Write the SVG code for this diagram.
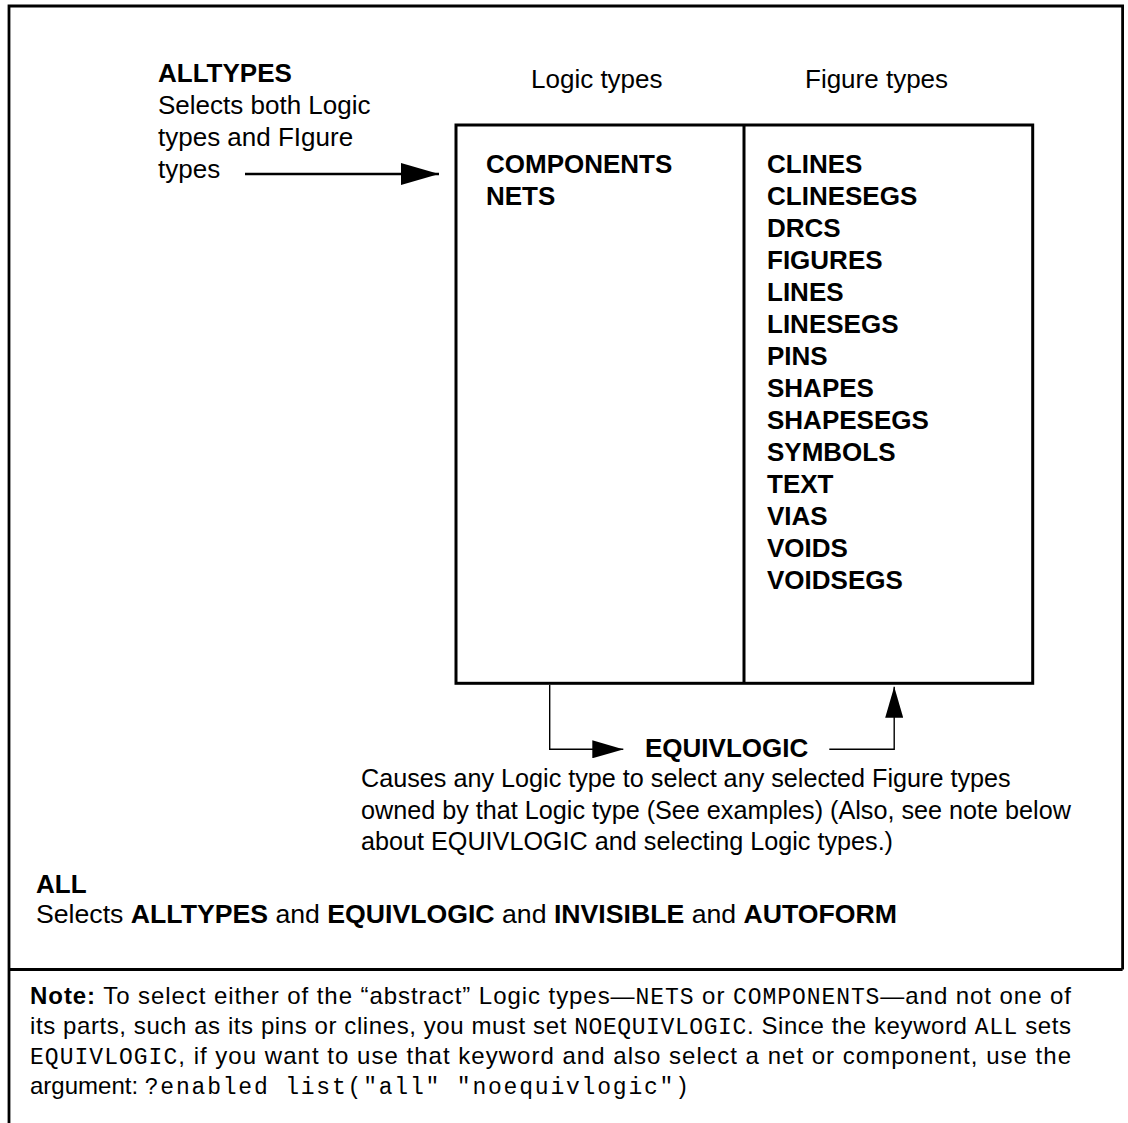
<svg xmlns="http://www.w3.org/2000/svg" width="1128" height="1123" viewBox="0 0 1128 1123">
  <style>
    text { font-family: "Liberation Sans", Arial, Helvetica, sans-serif; fill: #000; }
    .t26 { font-size: 26px; }
    .t25 { font-size: 25.2px; }
    .note { font-size: 24px; }
    .b { font-weight: bold; }
    .mono { font-family: "Liberation Mono", "Courier New", monospace; font-size: 23px; font-weight: normal; }
    .frame { fill: none; stroke: #000; stroke-width: 2.8; }
    .box { fill: none; stroke: #000; stroke-width: 3; }
    .wire { fill: none; stroke: #000; stroke-width: 1.4; }
    .wire-lg { fill: none; stroke: #000; stroke-width: 2.6; }
  </style>
  <defs>
    <marker id="head-lg" markerUnits="userSpaceOnUse" markerWidth="38" markerHeight="22" refX="38" refY="11" orient="auto">
      <path d="M0,0 L38,11 L0,22 Z" fill="#000"/>
    </marker>
    <marker id="head-sm" markerUnits="userSpaceOnUse" markerWidth="31" markerHeight="18" refX="31" refY="9" orient="auto">
      <path d="M0,0 L31,9 L0,18 Z" fill="#000"/>
    </marker>
  </defs>

  <rect width="1128" height="1123" fill="#fff"/>

  <!-- outer frame: open at the lower right, split by the note rule -->
  <g id="frame">
    <path class="frame" d="M9,1123 V6 H1122.6 V969.5"/>
    <path class="frame" d="M9,969.5 H1122.6" stroke-width="3.6"/>
  </g>

  <!-- ALLTYPES description -->
  <g id="alltypes">
    <text class="t26 b" x="158" y="82">ALLTYPES</text>
    <text class="t26" x="158" y="114">Selects both Logic</text>
    <text class="t26" x="158" y="146">types and FIgure</text>
    <text class="t26" x="158" y="178">types</text>
  </g>

  <!-- column headings -->
  <g id="headings">
    <text class="t26" x="531" y="88">Logic types</text>
    <text class="t26" x="805" y="88">Figure types</text>
  </g>

  <!-- two-column type table -->
  <g id="type-table">
    <rect class="box" x="456" y="125" width="576.7" height="558.3"/>
    <line class="box" x1="744" y1="125" x2="744" y2="683.3"/>
  </g>

  <g id="logic-types" class="t26 b">
    <text x="486" y="172.7">COMPONENTS</text>
    <text x="486" y="204.7">NETS</text>
  </g>

  <g id="figure-types" class="t26 b">
    <text x="767" y="172.7">CLINES</text>
    <text x="767" y="204.7">CLINESEGS</text>
    <text x="767" y="236.7">DRCS</text>
    <text x="767" y="268.7">FIGURES</text>
    <text x="767" y="300.7">LINES</text>
    <text x="767" y="332.7">LINESEGS</text>
    <text x="767" y="364.7">PINS</text>
    <text x="767" y="396.7">SHAPES</text>
    <text x="767" y="428.7">SHAPESEGS</text>
    <text x="767" y="460.7">SYMBOLS</text>
    <text x="767" y="492.7">TEXT</text>
    <text x="767" y="524.7">VIAS</text>
    <text x="767" y="556.7">VOIDS</text>
    <text x="767" y="588.7">VOIDSEGS</text>
  </g>

  <!-- EQUIVLOGIC description -->
  <g id="equivlogic">
    <text class="t26 b" x="645" y="757">EQUIVLOGIC</text>
    <text class="t25" x="361" y="787">Causes any Logic type to select any selected Figure types</text>
    <text class="t25" x="361" y="818.5">owned by that Logic type (See examples) (Also, see note below</text>
    <text class="t25" x="361" y="850">about EQUIVLOGIC and selecting Logic types.)</text>
  </g>

  <!-- ALL description -->
  <g id="all">
    <text class="t26 b" x="36" y="893">ALL</text>
    <text class="t26" x="36" y="923" textLength="861" lengthAdjust="spacingAndGlyphs">Selects <tspan class="b">ALLTYPES</tspan> and <tspan class="b">EQUIVLOGIC</tspan> and <tspan class="b">INVISIBLE</tspan> and <tspan class="b">AUTOFORM</tspan></text>
  </g>

  <!-- connectors -->
  <g id="connectors">
    <path class="wire-lg" d="M245,174 H439" marker-end="url(#head-lg)"/>
    <path class="wire" d="M549.7,684.8 V749.3 H623.3" marker-end="url(#head-sm)"/>
    <path class="wire" d="M829.3,749.3 H894.2 V686.7" marker-end="url(#head-sm)"/>
  </g>

  <!-- note below the rule -->
  <g id="note" class="note">
    <text x="30" y="1003.5" textLength="1041" lengthAdjust="spacing"><tspan class="b">Note:</tspan> To select either of the “abstract” Logic types—<tspan class="mono">NETS</tspan> or <tspan class="mono">COMPONENTS</tspan>—and not one of</text>
    <text x="30" y="1033.5" textLength="1041" lengthAdjust="spacing">its parts, such as its pins or clines, you must set <tspan class="mono">NOEQUIVLOGIC</tspan>. Since the keyword <tspan class="mono">ALL</tspan> sets</text>
    <text x="30" y="1064" textLength="1041" lengthAdjust="spacing"><tspan class="mono">EQUIVLOGIC</tspan>, if you want to use that keyword and also select a net or component, use the</text>
    <text x="30" y="1094">argument: <tspan class="mono" letter-spacing="1.8">?enabled list("all" "noequivlogic")</tspan></text>
  </g>
</svg>
